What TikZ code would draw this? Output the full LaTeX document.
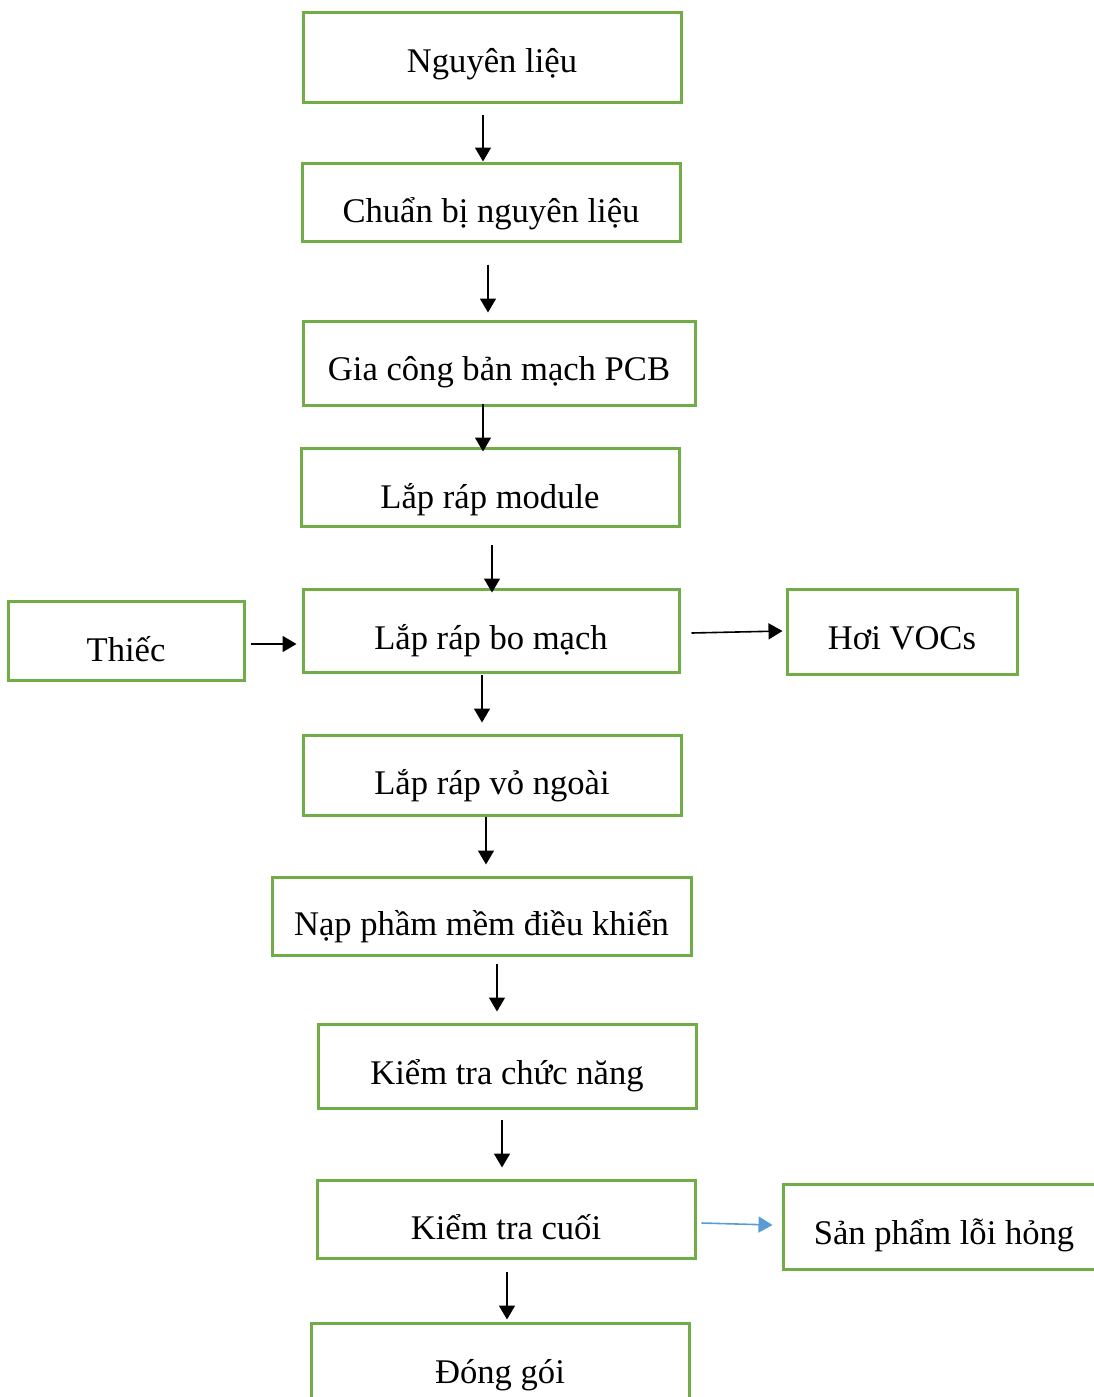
\documentclass[tikz,border=0pt]{standalone}
\usepackage{fontspec}
\setmainfont{Liberation Serif}
\usetikzlibrary{arrows.meta,calc}
\definecolor{boxgreen}{HTML}{70AD47}
\definecolor{linkblue}{HTML}{5B9BD5}
\begin{document}
\begin{tikzpicture}[x=1pt,y=-1pt,
  box/.style={draw=boxgreen, line width=3pt, fill=white, inner sep=0pt,
    text depth=0pt, font=\fontsize{34.6}{40}\selectfont},
  arr/.style={line width=1.6pt, -{Triangle[length=14pt,width=16pt]}},
  barr/.style={arr, draw=linkblue, fill=linkblue}]
\useasboundingbox (0,0) rectangle (1094,1397);
\clip (0,0) rectangle (1094,1397);

% process steps
\node[box, minimum width=378, minimum height=89, text height=29] (n1) at (492,57.5) {Nguyên liệu};
\node[box, minimum width=378, minimum height=78, text height=40] (n2) at (491,202) {Chuẩn bị nguyên liệu};
\node[box, minimum width=392, minimum height=84, text height=34] (n3) at (499,363) {Gia công bản mạch PCB};
\node[box, minimum width=378, minimum height=78, text height=42] (n4) at (490,487) {Lắp ráp module};
\node[box, minimum width=376, minimum height=83, text height=37] (n5) at (491,630.5) {Lắp ráp bo mạch};
\node[box, minimum width=236, minimum height=79, text height=41] (n6) at (126,640.5) {Thiếc};
\node[box, minimum width=230, minimum height=85, text height=35] (n7) at (902,631.5) {Hơi VOCs};
\node[box, minimum width=378, minimum height=80, text height=38] (n8) at (492,775) {Lắp ráp vỏ ngoài};
\node[box, minimum width=419, minimum height=78, text height=38] (n9) at (481.5,916) {Nạp phầm mềm điều khiển};
\node[box, minimum width=378, minimum height=84, text height=36] (n10) at (507,1066) {Kiểm tra chức năng};
\node[box, minimum width=378, minimum height=78, text height=40] (n11) at (506,1219) {Kiểm tra cuối};
\node[box, minimum width=322, minimum height=85, text height=35] (n12) at (944,1226.5) {Sản phẩm lỗi hỏng};
\node[box, minimum width=378, minimum height=80, text height=40] (n13) at (500,1363) {Đóng gói};

% main flow
\draw[arr] ($(n1.south)+(-9,11)$) -- ($(n2.north)+(-8,0)$);
\draw[arr] ($(n2.south)+(-3,22)$) -- ($(n3.north)+(-11,-7)$);
\draw[arr] ($(n3.south)+(-16,-3)$) -- ($(n4.north)+(-7,5)$);
\draw[arr] ($(n4.south)+(2,17)$) -- ($(n5.north)+(1,5)$);
\draw[arr] ($(n5.south)+(-9,1)$) -- ($(n8.north)+(-10,-11)$);
\draw[arr] ($(n8.south)+(-6,0)$) -- ($(n9.north)+(4.5,-11)$);
\draw[arr] ($(n9.south)+(15.5,7)$) -- ($(n10.north)+(-10,-11)$);
\draw[arr] ($(n10.south)+(-5,10)$) -- ($(n11.north)+(-4,-11)$);
\draw[arr] ($(n11.south)+(1,12)$) -- ($(n13.north)+(7,-2)$);

% inputs and outputs
\draw[arr] ($(n6.east)+(5,3.5)$) -- ($(n5.west)+(-5,13.5)$);
\draw[arr] ($(n5.east)+(11,2.5)$) -- ($(n7.west)+(-3,-0.5)$);
\draw[barr] ($(n11.east)+(5,4)$) -- ($(n12.west)+(-9,-1.5)$);
\end{tikzpicture}
\end{document}
